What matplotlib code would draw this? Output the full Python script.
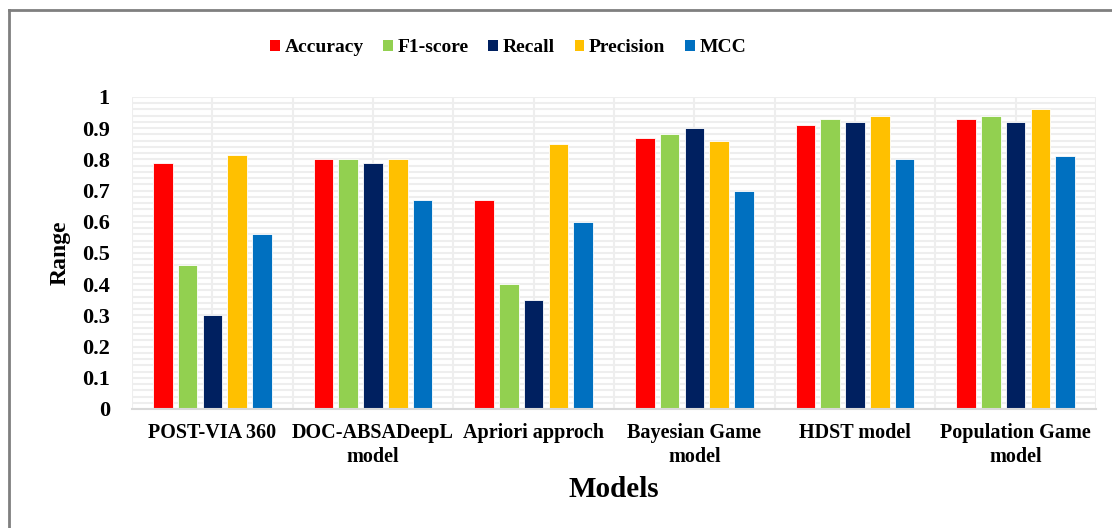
import matplotlib.pyplot as plt
import numpy as np
from matplotlib.patches import Patch
from matplotlib.ticker import MultipleLocator

plt.rcParams['font.family'] = ['Liberation Serif', 'DejaVu Serif']
plt.rcParams['font.weight'] = 'bold'

# model names and metric scores
models = ['POST-VIA 360', 'DOC-ABSADeepL\nmodel', 'Apriori approch',
          'Bayesian Game\nmodel', 'HDST model', 'Population Game\nmodel']
metrics = ['Accuracy', 'F1-score', 'Recall', 'Precision', 'MCC']
accuracy = [0.79, 0.80, 0.67, 0.87, 0.91, 0.93]
f1_score = [0.46, 0.80, 0.40, 0.88, 0.93, 0.94]
recall = [0.30, 0.79, 0.35, 0.90, 0.92, 0.92]
precision = [0.815, 0.80, 0.85, 0.86, 0.94, 0.96]
mcc = [0.56, 0.67, 0.60, 0.70, 0.80, 0.81]
colors = ['#FF0000', '#92D050', '#002060', '#FFC000', '#0070C0']

series = [accuracy, f1_score, recall, precision, mcc]

fig = plt.figure(figsize=(11.12, 5.28), dpi=100)
ax = fig.add_axes([0.1187, 0.2254, 0.8669, 0.5909])

x = np.arange(len(models))
pitch = 0.154
width = 0.122
for i, (vals, c) in enumerate(zip(series, colors)):
    ax.bar(x + (i - 2) * pitch, vals, width, color=c, edgecolor='white',
           linewidth=0.6, zorder=3)

ax.set_xlim(-0.5, len(models) - 0.5)
ax.set_ylim(0, 1)

# light grid: horizontal every 0.02, vertical every half category
ax.yaxis.set_major_locator(MultipleLocator(0.1))
ax.yaxis.set_minor_locator(MultipleLocator(0.02))
ax.grid(True, which='both', axis='y', color='#EEEEEE', linewidth=1.5, zorder=0)
for xv in np.arange(-0.5, len(models), 0.5):
    ax.axvline(xv, color='#EEEEEE', linewidth=1.5, zorder=0)

ax.set_xticks(x)
ax.set_xticklabels(models, fontsize=14.5, fontweight='bold', linespacing=1.3)
yt = np.round(np.arange(0, 1.01, 0.1), 1)
ax.set_yticks(yt)
ax.set_yticklabels(['0' if v == 0 else ('1' if v == 1 else f'{v:.1f}') for v in yt],
                   fontsize=16, fontweight='bold')
ax.tick_params(axis='both', which='both', length=0)
ax.tick_params(axis='y', pad=16)
ax.tick_params(axis='x', pad=10)

for side in ['top', 'right', 'left']:
    ax.spines[side].set_visible(False)
ax.spines['bottom'].set_color('#D9D9D9')
ax.spines['bottom'].set_linewidth(1.5)
ax.spines['bottom'].set_zorder(4)

ax.set_ylabel('Range', fontsize=17, fontweight='bold', labelpad=8)
ax.set_xlabel('Models', fontsize=21, fontweight='bold', labelpad=6)

handles = [Patch(facecolor=c, label=m) for c, m in zip(colors, metrics)]
fig.legend(handles=handles, loc='center', bbox_to_anchor=(0.457, 0.91),
           ncol=5, frameon=False, handlelength=0.5,
           handleheight=0.5, handletextpad=0.25, columnspacing=1.0,
           prop={'weight': 'bold', 'size': 14})

# outer frame lines along the top and left edge
fig.add_artist(plt.Line2D([9 / 1112, 1.0], [1 - 10 / 528] * 2,
                          transform=fig.transFigure, color='#7F7F7F', linewidth=2))
fig.add_artist(plt.Line2D([9 / 1112] * 2, [0.0, 1 - 10 / 528],
                          transform=fig.transFigure, color='#7F7F7F', linewidth=2))

fig.savefig('out.png', dpi=100)
